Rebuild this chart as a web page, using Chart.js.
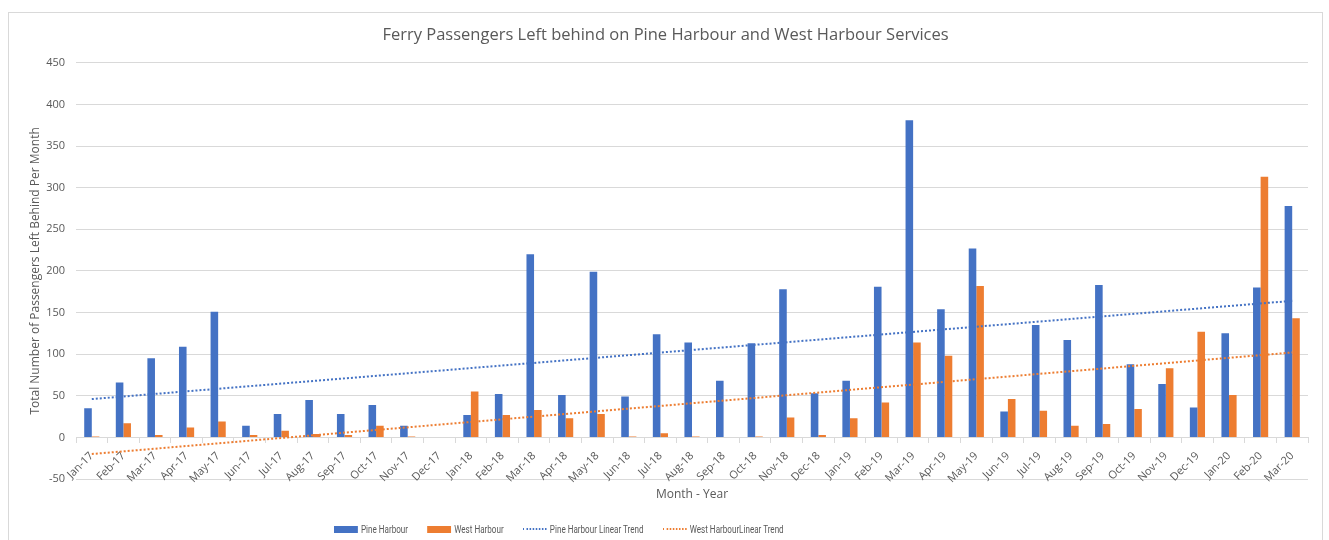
<!DOCTYPE html>
<html>
<head>
<meta charset="utf-8">
<title>Ferry Passengers Left behind</title>
<script src="https://cdn.jsdelivr.net/npm/chart.js@4.4.0/dist/chart.umd.min.js"></script>
<style>
  html, body { margin: 0; padding: 0; background: #fff; }
  #box { position: absolute; left: 8px; top: 12px; width: 1313px; height: 540px; border: 1px solid #d9d9d9; }
  #chart { display: block; }
  #legend {
    position: absolute; left: 334px; top: 522px; height: 14px;
    display: flex; align-items: center; white-space: nowrap;
    transform: scaleX(0.77); transform-origin: 0 50%;
    font: 10.5px Roboto, sans-serif; color: #595959;
  }
  #legend .item { display: flex; align-items: center; margin-right: 25px; }
  #legend .swatch { width: 31px; margin-right: 4px; }
  #legend .bar { height: 7px; }
  #legend .line { height: 0; border-top-width: 2px; border-top-style: dotted; }
</style>
</head>
<body>
<div id="box"><canvas id="chart" width="1313" height="527"></canvas></div>
<div id="legend"></div>
<script>
// 月份（类别）
const months = [
  'Jan-17', 'Feb-17', 'Mar-17', 'Apr-17', 'May-17', 'Jun-17', 'Jul-17', 'Aug-17', 'Sep-17', 'Oct-17', 'Nov-17', 'Dec-17',
  'Jan-18', 'Feb-18', 'Mar-18', 'Apr-18', 'May-18', 'Jun-18', 'Jul-18', 'Aug-18', 'Sep-18', 'Oct-18', 'Nov-18', 'Dec-18',
  'Jan-19', 'Feb-19', 'Mar-19', 'Apr-19', 'May-19', 'Jun-19', 'Jul-19', 'Aug-19', 'Sep-19', 'Oct-19', 'Nov-19', 'Dec-19',
  'Jan-20', 'Feb-20', 'Mar-20'
];

// 每月滞留乘客数
const pineHarbour = [
  35, 66, 95, 109, 151, 14, 28, 45, 28, 39, 14, 0,
  27, 52, 220, 51, 199, 49, 124, 114, 68, 113, 178, 53,
  68, 181, 381, 154, 227, 31, 135, 117, 183, 88, 64, 36,
  125, 180, 278
];
const westHarbour = [
  1, 17, 3, 12, 19, 3, 8, 4, 3, 14, 1, 0,
  55, 27, 33, 23, 28, 1, 5, 1, 0, 1, 24, 3,
  23, 42, 114, 98, 182, 46, 32, 14, 16, 34, 83, 127,
  51, 313, 143
];

// 趋势线两端的读数（首月、末月）
const pineTrend = [46, 164];
const westTrend = [-20, 102];

// Y 轴刻度
const yMin = -50;
const yMax = 450;
const yStep = 50;

const textColor = '#595959';
const gridColor = '#d9d9d9';
const font = 'Open Sans, sans-serif';

function trendPoints(ends) {
  return [
    { x: months[0], y: ends[0] },
    { x: months[months.length - 1], y: ends[1] }
  ];
}

const chart = new Chart(document.getElementById('chart'), {
  type: 'bar',
  data: {
    labels: months,
    datasets: [
      {
        label: 'Pine Harbour',
        data: pineHarbour,
        backgroundColor: '#4472C4',
        borderWidth: 0,
        categoryPercentage: 0.48,
        barPercentage: 1,
        xAxisID: 'x',
        order: 1
      },
      {
        label: 'West Harbour',
        data: westHarbour,
        backgroundColor: '#ED7D31',
        borderWidth: 0,
        categoryPercentage: 0.48,
        barPercentage: 1,
        xAxisID: 'x',
        order: 1
      },
      {
        type: 'line',
        label: 'Pine Harbour Linear Trend',
        data: trendPoints(pineTrend),
        borderColor: '#4472C4',
        backgroundColor: '#4472C4',
        borderWidth: 2,
        borderDash: [2, 2],
        pointRadius: 0,
        fill: false,
        xAxisID: 'x',
        order: 0
      },
      {
        type: 'line',
        label: 'West HarbourLinear Trend',
        data: trendPoints(westTrend),
        borderColor: '#ED7D31',
        backgroundColor: '#ED7D31',
        borderWidth: 2,
        borderDash: [2, 2],
        pointRadius: 0,
        fill: false,
        xAxisID: 'x',
        order: 0
      }
    ]
  },
  options: {
    responsive: false,
    animation: false,
    layout: {
      padding: { left: 14, right: 14, top: 1, bottom: 37 }
    },
    scales: {
      y: {
        min: yMin,
        max: yMax,
        ticks: {
          stepSize: yStep,
          color: textColor,
          padding: 11,
          font: { family: font, size: 11 }
        },
        grid: { color: gridColor, drawTicks: false },
        border: { display: false },
        title: {
          display: true,
          text: 'Total Number of Passengers Left Behind Per Month',
          color: textColor,
          padding: { top: 5, bottom: 0 },
          font: { family: font, size: 12 }
        },
        afterFit: function(scale) { scale.width = 53; }
      },
      x: {
        position: { y: 0 },
        offset: true,
        ticks: {
          color: textColor,
          autoSkip: false,
          minRotation: 45,
          maxRotation: 45,
          padding: 7,
          font: { family: font, size: 11 }
        },
        grid: { offset: true, drawOnChartArea: false, color: gridColor, tickLength: 5 },
        border: { color: gridColor }
      },
      x2: {
        type: 'category',
        position: 'bottom',
        offset: true,
        ticks: { display: false },
        grid: { display: false },
        border: { display: false },
        title: {
          display: true,
          text: 'Month - Year',
          color: textColor,
          padding: { top: 0, bottom: 1 },
          font: { family: font, size: 12 }
        },
        afterFit: function(scale) { scale.height = 24; }
      }
    },
    plugins: {
      title: {
        display: true,
        text: 'Ferry Passengers Left behind on Pine Harbour and West Harbour Services',
        color: textColor,
        padding: { top: 11, bottom: 18 },
        font: { family: font, size: 16.5, weight: 'normal' }
      },
      legend: { display: false },
      tooltip: { enabled: false }
    }
  }
});

// 图例：按数据集生成（线性趋势用点线样本）
const legend = document.getElementById('legend');
chart.data.datasets.forEach(function(ds) {
  const item = document.createElement('div');
  item.className = 'item';
  const swatch = document.createElement('span');
  if (ds.type === 'line') {
    swatch.className = 'swatch line';
    swatch.style.borderTopColor = ds.borderColor;
  } else {
    swatch.className = 'swatch bar';
    swatch.style.background = ds.backgroundColor;
  }
  const text = document.createElement('span');
  text.textContent = ds.label;
  item.appendChild(swatch);
  item.appendChild(text);
  legend.appendChild(item);
});
</script>
</body>
</html>
